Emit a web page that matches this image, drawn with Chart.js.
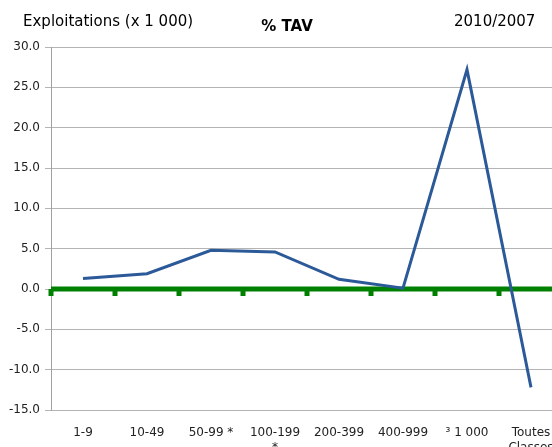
<!DOCTYPE html>
<html>
<head>
<meta charset="utf-8">
<script src="https://cdn.jsdelivr.net/npm/chart.js@4"></script>
<style>
  html, body { margin: 0; padding: 0; background: #fff; overflow: hidden; }
  #wrap { width: 570px; height: 447px; }
</style>
</head>
<body>
<div id="wrap"><canvas id="tav" width="570" height="447"></canvas></div>
<script>
const categories = ['1-9', '10-49', '50-99 *', ['100-199', '*'], '200-399', '400-999', '\u00b3 1 000', ['Toutes', 'Classes']];
const tavValues = [1.3, 1.9, 4.8, 4.6, 1.2, 0.1, 27.2, -12.2];
const yTicks = [-15, -10, -5, 0, 5, 10, 15, 20, 25, 30];

const font = 'DejaVu Sans, Verdana, sans-serif';

// header texts and the green zero line
const decorations = {
    id: 'decorations',
    beforeDatasetsDraw(chart) {
        const c = chart.ctx;
        const area = chart.chartArea;
        const x = chart.scales.x;
        const y0 = chart.scales.y.getPixelForValue(0);
        c.save();
        c.strokeStyle = '#008000';
        c.lineWidth = 5;
        c.beginPath();
        c.moveTo(area.left, y0);
        c.lineTo(area.right, y0);
        c.stroke();
        c.fillStyle = '#008000';
        const step = x.getPixelForValue(1) - x.getPixelForValue(0);
        for (let i = 0; i < categories.length; i++) {
            const bx = x.getPixelForValue(i) - step / 2;
            c.fillRect(bx - 2.5, y0, 5, 7);
        }
        c.restore();
    },
    afterDraw(chart) {
        const c = chart.ctx;
        c.save();
        c.fillStyle = '#000';
        c.textBaseline = 'alphabetic';
        c.font = '15px ' + font;
        c.textAlign = 'left';
        c.fillText('Exploitations (x 1 000)', 23, 26);
        c.fillText('2010/2007', 454, 26);
        c.font = 'bold 15px ' + font;
        c.textAlign = 'center';
        c.fillText('% TAV', 287, 31);
        c.restore();
    }
};

new Chart(document.getElementById('tav'), {
    type: 'line',
    data: {
        labels: categories,
        datasets: [{
            label: '% TAV',
            data: tavValues,
            borderColor: '#2C5A99',
            borderWidth: 3,
            pointRadius: 0,
            tension: 0,
            fill: false
        }]
    },
    options: {
        responsive: false,
        animation: false,
        layout: { padding: { top: 47, right: 7, left: 0, bottom: 0 } },
        plugins: { legend: { display: false }, tooltip: { enabled: false } },
        scales: {
            x: {
                offset: true,
                grid: { display: false, offset: true },
                border: { display: false },
                ticks: { color: '#222', font: { family: font, size: 12 }, padding: 8, maxRotation: 0, autoSkip: false },
                afterFit(scale) {
                    scale.height = 37;
                    scale.paddingLeft = 0;
                    scale.paddingRight = 0;
                }
            },
            y: {
                min: -15,
                max: 30,
                afterBuildTicks(scale) { scale.ticks = yTicks.map(v => ({ value: v })); },
                ticks: {
                    color: '#222',
                    font: { family: font, size: 12 },
                    padding: 5,
                    callback: v => v.toFixed(1)
                },
                grid: { color: '#b4b4b4', lineWidth: 1, tickLength: 6 },
                border: { color: '#a0a0a0' },
                afterFit(scale) { scale.width = 51; }
            }
        }
    },
    plugins: [decorations]
});
</script>
</body>
</html>
